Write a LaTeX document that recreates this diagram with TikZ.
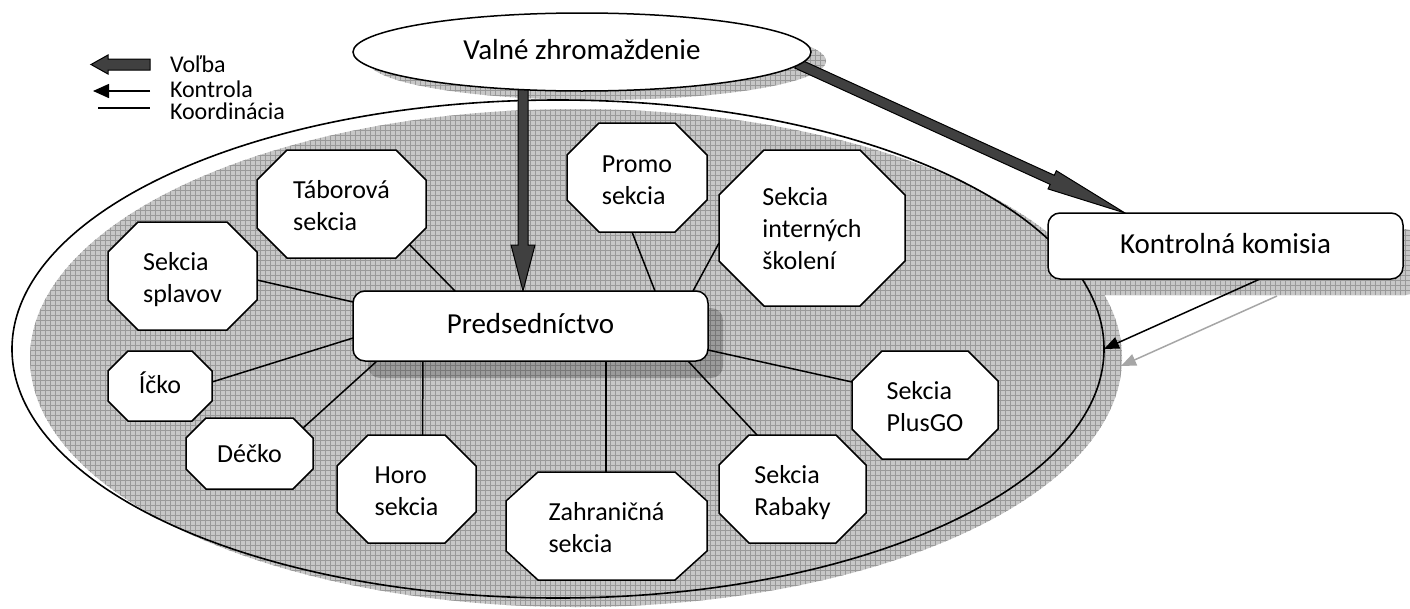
\documentclass[tikz,border=0pt]{standalone}
\usepackage{fontspec}
\setmainfont{Carlito}
\usetikzlibrary{calc,arrows.meta,shapes.geometric}
\pgfdeclarelayer{back}
\pgfdeclarelayer{conn}
\pgfsetlayers{back,conn,main}
\makeatletter
\newdimen\octXa \newdimen\octXb \newdimen\octXc \newdimen\octXd
\newdimen\octYa \newdimen\octYb \newdimen\octYc \newdimen\octYd
\pgfkeys{/pgf/oct cut x/.initial=30pt,/pgf/oct cut y/.initial=30pt}
\pgfdeclareshape{octbox}{%
  \inheritsavedanchors[from=rectangle]%
  \inheritanchorborder[from=rectangle]%
  \inheritanchor[from=rectangle]{center}%
  \inheritanchor[from=rectangle]{north}%
  \inheritanchor[from=rectangle]{south}%
  \inheritanchor[from=rectangle]{east}%
  \inheritanchor[from=rectangle]{west}%
  \inheritanchor[from=rectangle]{north east}%
  \inheritanchor[from=rectangle]{north west}%
  \inheritanchor[from=rectangle]{south east}%
  \inheritanchor[from=rectangle]{south west}%
  \backgroundpath{%
    \southwest \octXa=\pgf@x \octYa=\pgf@y
    \northeast \octXd=\pgf@x \octYd=\pgf@y
    \pgfmathsetlength\octXb{\pgfkeysvalueof{/pgf/oct cut x}}%
    \pgfmathsetlength\octYb{\pgfkeysvalueof{/pgf/oct cut y}}%
    \octXc=\octXd \advance\octXc by -\octXb
    \octYc=\octYd \advance\octYc by -\octYb
    \advance\octXb by \octXa
    \advance\octYb by \octYa
    \pgfpathmoveto{\pgfqpoint{\octXb}{\octYa}}%
    \pgfpathlineto{\pgfqpoint{\octXc}{\octYa}}%
    \pgfpathlineto{\pgfqpoint{\octXd}{\octYb}}%
    \pgfpathlineto{\pgfqpoint{\octXd}{\octYc}}%
    \pgfpathlineto{\pgfqpoint{\octXc}{\octYd}}%
    \pgfpathlineto{\pgfqpoint{\octXb}{\octYd}}%
    \pgfpathlineto{\pgfqpoint{\octXa}{\octYc}}%
    \pgfpathlineto{\pgfqpoint{\octXa}{\octYb}}%
    \pgfpathclose
  }%
}
\makeatother
\tikzset{
  octcutx/.code={\pgfkeys{/pgf/oct cut x=#1}},
  octcuty/.code={\pgfkeys{/pgf/oct cut y=#1}},
  octcut/.style={octcutx=#1,octcuty=#1},
}
\newcommand{\blockarrow}[5]{%
  \coordinate (#1-h) at ($(#2)!#5!(#1)$);
  \draw[volba] ($(#1)!#3!90:(#2)$) -- ($(#1-h)!#3!90:(#2)$) -- ($(#1-h)!#4!90:(#2)$) -- (#2)
    -- ($(#1-h)!#4!-90:(#2)$) -- ($(#1-h)!#3!-90:(#2)$) -- ($(#1)!#3!-90:(#2)$) -- cycle;
}
\begin{document}
\begin{tikzpicture}[x=1pt,y=-1pt,
  every node/.style={inner sep=0pt, outer sep=0pt},
  line width=1.5pt,
  oct/.style={shape=octbox, draw, fill=white, line width=1.5pt, align=left,
    font=\fontsize{26}{32}\selectfont, text height=56pt, text depth=3pt},
  oct3/.style={oct, text height=85pt, text depth=3pt},
  oct1/.style={oct, text height=20pt, text depth=5pt},
  rbox/.style={rectangle, rounded corners=12pt, draw, fill=white, line width=1.5pt,
    font=\fontsize{29}{35}\selectfont, text height=20pt, text depth=6pt},
  koord/.style={draw, line width=1.5pt},
  volba/.style={draw=black, line width=1pt, fill=black!75},
  kontrola/.style={draw, line width=1.5pt, -{Triangle[length=15pt,width=12pt]}},
  shadowarrow/.style={draw=black!35, line width=1.5pt, -{Triangle[length=15pt,width=12pt]}},
  hatch/.style={fill=black!22},
  hatchgrid/.style={draw=black!40, line width=0.5pt},
  legtext/.style={anchor=base west, font=\fontsize{24}{30}\selectfont},
]
\useasboundingbox (0,0) rectangle (1410,608);

% ---- main nodes
\node[ellipse, draw, fill=white, line width=1.5pt, minimum width=458, minimum height=78,
  font=\fontsize{29}{35}\selectfont, text height=20pt, text depth=6pt] (vz) at (582,52) {Valné zhromaždenie};
\node[rbox, minimum width=355, minimum height=70] (pred) at (530.5,326) {Predsedníctvo};
\node[rbox, minimum width=355, minimum height=66] (kk) at (1225.5,246) {Kontrolná komisia};

\node[oct, minimum width=169, minimum height=108, octcut=30] (tab) at (341.5,204) {Táborová\\sekcia};
\node[oct, minimum width=149, minimum height=108, octcut=30] (spl) at (182.5,276) {Sekcia\\splavov};
\node[oct1, minimum width=104, minimum height=70, octcut=20, text depth=6pt] (ick) at (160,386) {Íčko};
\node[oct1, minimum width=127, minimum height=71, octcut=20, text height=21pt, text depth=4pt] (dec) at (249.5,453.5) {Déčko};
\node[oct, minimum width=139, minimum height=108, octcut=31] (hor) at (406.5,489) {Horo\\sekcia};
\node[oct, minimum width=201, minimum height=108, octcutx=32, octcuty=29] (zah) at (606.5,526) {Zahraničná\\sekcia};
\node[oct, minimum width=147, minimum height=108, octcut=30] (rab) at (792.5,489) {Sekcia\\Rabaky};
\node[oct, minimum width=146, minimum height=108, octcut=30] (plus) at (925,405) {Sekcia\\PlusGO};
\node[oct3, minimum width=186, minimum height=156, octcut=45] (int) at (812,228) {Sekcia\\interných\\školení};
\node[oct, minimum width=140, minimum height=109, octcut=32] (pro) at (637,177.5) {Promo\\sekcia};

% ---- shadows and big ellipse
\begin{pgfonlayer}{back}
\begin{scope}[line width=1.5pt]
\fill[white] (0,0) rectangle (1410,608);
\begin{scope}
  \clip (576,358) ellipse [x radius=546, y radius=249];
  \fill[hatch] (0,0) rectangle (1410,608);
  \draw[hatchgrid, step=5pt] (0,608) grid (1410,0);
\end{scope}
\begin{scope}
  \clip ([shift={(15,9)}]vz.center) ellipse [x radius=229, y radius=39];
  \fill[hatch] (0,0) rectangle (1410,608);
  \draw[hatchgrid, step=5pt] (0,608) grid (1410,0);
\end{scope}
\begin{scope}
  \clip[rounded corners=12pt] ([shift={(15,16)}]kk.north west) rectangle ([shift={(15,16)}]kk.south east);
  \fill[hatch] (0,0) rectangle (1430,608);
  \draw[hatchgrid, step=5pt] (0,608) grid (1430,0);
\end{scope}
\fill[black, opacity=0.22, rounded corners=12pt] ([shift={(15,17)}]pred.north west) rectangle ([shift={(15,17)}]pred.south east);
\node[ellipse, draw, line width=1.6pt, minimum width=1092, minimum height=498] (org) at (558,349) {};
\end{scope}
\end{pgfonlayer}

% ---- connectors
\begin{pgfonlayer}{conn}
\begin{scope}[line width=1.5pt]
\draw[koord] ([xshift=102pt]pred.north west) -- ([xshift=-18pt,yshift=15pt]tab.south east);
\draw[koord] ([yshift=24pt]pred.west) -- ([yshift=-4pt]spl.east);
\draw[koord] ([yshift=-12pt]pred.west) -- ([yshift=4pt]ick.east);
\draw[koord] ([xshift=24pt]pred.south west) -- ([xshift=-10pt,yshift=-10pt]dec.north east);
\draw[koord] ([xshift=70pt]pred.south west) -- ([xshift=16pt]hor.north);
\draw[koord] ([xshift=253pt]pred.south west) -- ([xshift=-0.5pt]zah.north);
\draw[koord] ([xshift=-20pt]pred.south east) -- ([xshift=38pt]rab.north west);
\draw[koord] ([yshift=-24pt]pred.east) -- ([yshift=23pt]plus.west);
\draw[koord] ([xshift=302pt]pred.north west) -- ([xshift=-5pt]pro.south);
\draw[koord] ([xshift=-15pt]pred.north east) -- ([yshift=-15pt]int.west);

\coordinate (va) at ([xshift=-59pt,yshift=4pt]vz.south);
\coordinate (vb) at ([xshift=170pt]pred.north west);
\blockarrow{va}{vb}{5pt}{12pt}{46pt}
\coordinate (vc) at ([xshift=-4pt]vz.-3);
\coordinate (vd) at ([xshift=77pt]kk.north west);
\blockarrow{vc}{vd}{5pt}{10pt}{80pt}

\draw[shadowarrow] ([xshift=51.5pt,yshift=-17pt]kk.south) -- ([xshift=17pt,yshift=-17pt]org.east);
\draw[kontrola] ([xshift=34.5pt]kk.south) -- (org.east);
\end{scope}
\end{pgfonlayer}

% ---- legend
\coordinate (l1a) at (150,64.5);
\coordinate (l1b) at (91,64.5);
\blockarrow{l1a}{l1b}{5.5pt}{9.5pt}{17pt}
\coordinate (l2a) at (150,91);
\coordinate (l2b) at (93,91);
\draw[koord, -{Triangle[length=16pt,width=14pt]}] (l2a) -- (l2b);
\coordinate (l3a) at (98,108);
\coordinate (l3b) at (150,108);
\draw[koord] (l3a) -- (l3b);
\node[legtext] (t1) at (170,72) {Voľba};
\node[legtext] (t2) at (170,97) {Kontrola};
\node[legtext] (t3) at (170,119) {Koordinácia};
\end{tikzpicture}
\end{document}
